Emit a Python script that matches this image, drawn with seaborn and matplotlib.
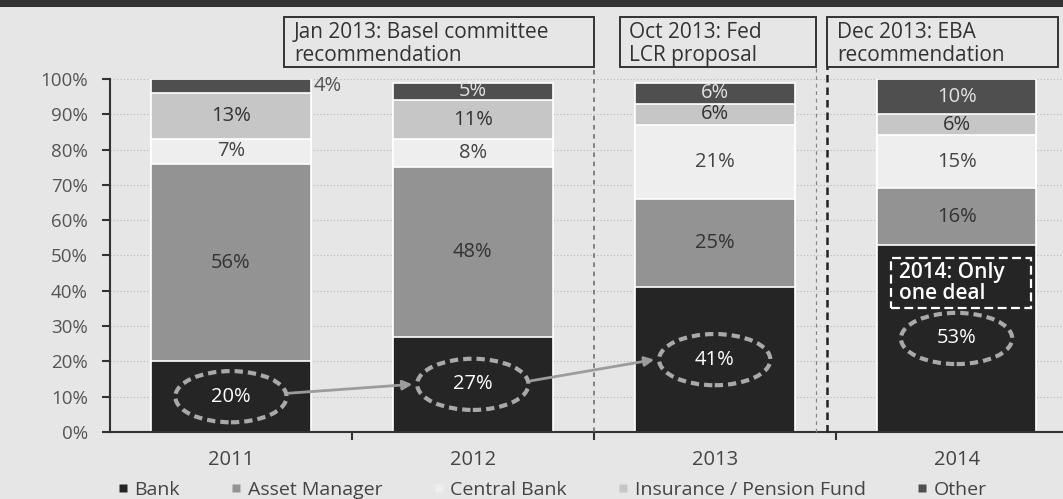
import matplotlib
matplotlib.use("Agg")
import matplotlib.pyplot as plt
import matplotlib.transforms as mtransforms
from matplotlib.patches import Ellipse, Rectangle
from matplotlib.lines import Line2D
import seaborn as sns
import pandas as pd

# ---- data -------------------------------------------------------------
years = ["2011", "2012", "2013", "2014"]
bank = [20, 27, 41, 53]
asset_manager = [56, 48, 25, 16]
central_bank = [7, 8, 21, 15]
insurance = [13, 11, 6, 6]
other = [4, 5, 6, 10]
series_names = ["Bank", "Asset Manager", "Central Bank",
                "Insurance / Pension Fund", "Other"]
y_ticks = [0, 10, 20, 30, 40, 50, 60, 70, 80, 90, 100]
y_tick_labels = [f"{v}%" for v in y_ticks]
events = ["Jan 2013: Basel committee\nrecommendation",
          "Oct 2013: Fed\nLCR proposal",
          "Dec 2013: EBA\nrecommendation"]
note_2014 = "2014: Only\none deal"

# ---- style ------------------------------------------------------------
BG = "#e6e6e6"
colors = {
    "Bank": "#252525",
    "Asset Manager": "#939393",
    "Central Bank": "#eeeeee",
    "Insurance / Pension Fund": "#c6c6c6",
    "Other": "#4f4f4f",
}
label_colors = {
    "Asset Manager": "#333333",
    "Central Bank": "#444444",
    "Insurance / Pension Fund": "#333333",
    "Other": "#e2e2e2",
}

sns.set_theme(style="white")
plt.rcParams["font.family"] = ["Open Sans", "DejaVu Sans"]

W, H = 1063, 499
fig = plt.figure(figsize=(W / 100, H / 100), dpi=100, facecolor=BG)
ax = fig.add_axes([110 / W, 1 - 432 / H, 1 - 110 / W, (432 - 79) / H])
ax.set_facecolor(BG)

df = pd.DataFrame({
    "year": years,
    "Bank": bank,
    "Asset Manager": asset_manager,
    "Central Bank": central_bank,
    "Insurance / Pension Fund": insurance,
    "Other": other,
})
cum = df[series_names].cumsum(axis=1)
cum["year"] = years

BAR_W = 0.66
# stacked bars: draw cumulative totals from the top layer down
for name in reversed(series_names):
    sns.barplot(data=cum, x="year", y=name, color=colors[name], width=BAR_W,
                saturation=1, edgecolor="white", linewidth=1.2, ax=ax,
                zorder=2)

ax.set_xlim(-0.5, 3.44)
ax.set_ylim(0, 100)
ax.set_xlabel("")
ax.set_ylabel("")
ax.set_yticks(y_ticks)
ax.set_yticklabels(y_tick_labels)
ax.yaxis.grid(True, linestyle=(0, (1, 2)), color="#b8b8b8", linewidth=0.8)
ax.set_axisbelow(True)

for s in ["top", "right"]:
    ax.spines[s].set_visible(False)
for s in ["left", "bottom"]:
    ax.spines[s].set_color("#333333")
    ax.spines[s].set_linewidth(1.5)

ax.tick_params(axis="y", direction="out", length=6, width=1.5, color="#333333",
               labelsize=13.5, labelcolor="#555555", pad=10, left=True)
ax.tick_params(axis="x", which="major", length=0, labelsize=14.5,
               labelcolor="#444444", pad=13)
ax.set_xticks([0.5, 1.5, 2.5], minor=True)
ax.tick_params(axis="x", which="minor", direction="out", length=6, width=1.5,
               color="#333333", bottom=True)

# ---- segment labels ---------------------------------------------------
for i in range(len(years)):
    base = 0
    for name in series_names:
        val = df.loc[i, name]
        mid = base + val / 2
        if name == "Bank":
            ax.text(i, mid, f"{val}%", ha="center", va="center", fontsize=14.5,
                    color="white", zorder=5)
        elif name == "Other" and i == 0:
            ax.text(i + BAR_W / 2 + 0.01, base + val / 2, f"{val}%", ha="left",
                    va="center", fontsize=14.5, color="#555555", zorder=5)
        else:
            ax.text(i, mid, f"{val}%", ha="center", va="center", fontsize=14.5,
                    color=label_colors[name], zorder=5)
        base += val

# dashed rings around the bank share, linked by arrows
ELL_W, ELL_H = 0.46, 14.5
for i, v in enumerate(bank):
    ax.add_patch(Ellipse((i, v / 2), ELL_W, ELL_H, facecolor="none",
                         edgecolor="#a9a9a9", linewidth=3,
                         linestyle=(0, (2, 1.2)), zorder=4))
for i in range(2):
    ax.annotate("", xy=(i + 1 - ELL_W / 2 - 0.02, bank[i + 1] / 2),
                xytext=(i + ELL_W / 2 + 0.01, bank[i] / 2 + 1),
                arrowprops=dict(arrowstyle="-|>", color="#9c9c9c", lw=2,
                                mutation_scale=14, shrinkA=0, shrinkB=0),
                zorder=4)

# note inside the 2014 bank bar
ax.add_patch(Rectangle((3 - 0.273, 35.1), 0.579, 14.2, facecolor="none",
                       edgecolor="white", linewidth=1.6,
                       linestyle=(0, (4, 2)), zorder=5))
ax.text(3 - 0.24, 42.3, note_2014, ha="left", va="center", fontsize=15,
        color="white", fontweight="semibold", linespacing=1.0, zorder=6)

# ---- event markers ----------------------------------------------------
bt = mtransforms.blended_transform_factory(ax.transData, fig.transFigure)
box_top, box_bot = 1 - 17 / H, 1 - 67 / H
boxes = [(0.221, 1.5), (1.607, 2.42), (2.465, 3.418)]
for (x0, x1), txt in zip(boxes, events):
    fig.patches.append(Rectangle((x0, box_bot), x1 - x0, box_top - box_bot,
                                 transform=bt, facecolor="none",
                                 edgecolor="#333333", linewidth=1.4))
    fig.text(x0 + 0.04, (box_top + box_bot) / 2 - 0.004, txt, transform=bt,
             ha="left", va="center", fontsize=15, color="#333333",
             linespacing=1.08)

line_top = (432 - 67) / (432 - 79)
vt = mtransforms.blended_transform_factory(ax.transData, ax.transAxes)
ax.plot([1.5, 1.5], [0, line_top], transform=vt, clip_on=False,
        color="#666666", lw=1.1, linestyle=(0, (3, 3)), zorder=3)
ax.plot([2.42, 2.42], [0, line_top], transform=vt, clip_on=False,
        color="#888888", lw=0.9, linestyle=(0, (3, 3)), zorder=3)
ax.plot([2.465, 2.465], [0, line_top], transform=vt, clip_on=False,
        color="#222222", lw=1.8, linestyle=(0, (3, 2)), zorder=3)

# dark band across the top
fig.patches.append(Rectangle((0, 1 - 7 / H), 1, 7 / H, transform=fig.transFigure,
                             facecolor="#333333", edgecolor="none"))

# ---- legend -----------------------------------------------------------
handles = [Line2D([], [], marker="s", linestyle="none", markersize=6,
                  markerfacecolor=colors[n], markeredgecolor="none")
           for n in series_names]
fig.legend(handles, series_names, loc="center", ncol=5, frameon=False,
           bbox_to_anchor=(551 / W, 1 - 490 / H), fontsize=14,
           labelcolor="#444444", handletextpad=0.2, columnspacing=2.5,
           handlelength=0.8)

fig.savefig("out.png", dpi=100, facecolor=BG)
